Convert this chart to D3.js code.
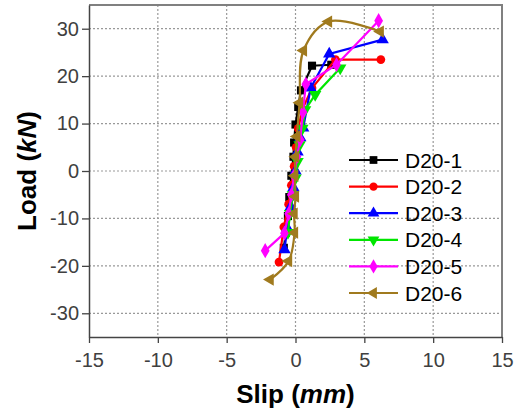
<!DOCTYPE html>
<html lang="en">
<head>
    <meta charset="UTF-8">
    <script src="https://cdn.jsdelivr.net/npm/d3@7/dist/d3.min.js"></script>
    <title>Load-slip</title>
    <style>
        body { margin: 0; background: #fff; }
        text { font-family: Arial, "Liberation Sans", sans-serif; }
    </style>
</head>
<body>
</body>
<script>

    // slip (mm) and load (kN)
    let names = ["D20-1", "D20-2", "D20-3", "D20-4", "D20-5", "D20-6"];
    let colors = ["#000000", "#ff0000", "#0000ff", "#00e600", "#ff00ff", "#a07a1e"];
    let symbols = [d3.symbolSquare, d3.symbolCircle, "up", "down", d3.symbolDiamond, "left"];

    let slip1 = [-0.85, -0.7, -0.55, -0.45, -0.3, -0.15, -0.1, 0.0, 0.2, 0.4, 1.2, 2.6];
    let load1 = [-16.2, -13, -9.5, -5.5, -1, 3, 6, 9.8, 13.5, 17, 22.2, 22.4];
    let slip2 = [-1.2, -0.85, -0.5, -0.3, -0.1, 0.05, 0.2, 0.5, 1.2, 2.9, 6.2];
    let load2 = [-19.2, -11.8, -7, -3, 1, 5, 9, 13, 17.5, 23.5, 23.5];
    let slip3 = [-0.8, -0.6, -0.35, -0.15, 0, 0.15, 0.35, 0.56, 1.1, 2.45, 6.33];
    let load3 = [-16.6, -12, -7.5, -3.5, 0, 4, 7, 9.1, 17.5, 24.7, 27.7];
    let slip4 = [-0.55, -0.4, -0.2, 0, 0.15, 0.3, 0.5, 0.7, 1.43, 3.25];
    let load4 = [-13, -9, -5, -1.5, 2, 5.5, 9, 12.9, 16.1, 21.7];
    let slip5 = [-2.2, -0.8, -0.5, -0.3, -0.1, 0.1, 0.34, 0.54, 0.75, 2.98, 6.04];
    let load5 = [-16.8, -13.1, -9, -5, -1, 3, 6.6, 12.4, 18.3, 22.4, 31.7];
    let slip6 = [-1.84, -0.5, -0.07, -0.1, 0, -0.05, 0.0, 0.1, 0.3, 0.58, 2.4, 6.16];
    let load6 = [-22.9, -19, -13, -9, -5.4, -1, 3, 7.3, 14.4, 25.4, 31.5, 29.4];

    let slips = [slip1, slip2, slip3, slip4, slip5, slip6];
    let loads = [load1, load2, load3, load4, load5, load6];

    let xTicks = [-15, -10, -5, 0, 5, 10, 15];
    let yTicks = [-30, -20, -10, 0, 10, 20, 30];

    let width = 514, height = 411;
    let mLeft = 89, mTop = 5, mRight = 502, mBottom = 337;

    let svg = d3.select("body")
        .append("svg")
        .attr("width", width)
        .attr("height", height);

    let x = d3.scaleLinear().domain([-15, 15]).range([mLeft, mRight]);
    let y = d3.scaleLinear().domain([-35, 35]).range([mBottom, mTop]);

    // grid
    svg.append("g")
        .selectAll("line")
        .data(xTicks.slice(1, -1))
        .join("line")
        .attr("x1", d => x(d)).attr("x2", d => x(d))
        .attr("y1", mTop).attr("y2", mBottom)
        .attr("stroke", "#999").attr("stroke-width", 1.2)
        .attr("stroke-dasharray", "2,2");
    svg.append("g")
        .selectAll("line")
        .data(yTicks)
        .join("line")
        .attr("x1", mLeft).attr("x2", mRight)
        .attr("y1", d => y(d)).attr("y2", d => y(d))
        .attr("stroke", "#999").attr("stroke-width", 1.2)
        .attr("stroke-dasharray", "2,2");

    // top and right border
    svg.append("path")
        .attr("d", `M${mLeft},${mTop}H${mRight}V${mBottom}`)
        .attr("fill", "none")
        .attr("stroke", "#808080")
        .attr("stroke-width", 2);

    let fmt = d => String(d); // plain hyphen, like the original
    let xAxis = svg.append("g")
        .attr("transform", `translate(0,${mBottom})`)
        .call(d3.axisBottom(x).tickValues(xTicks).tickFormat(fmt).tickSize(6).tickSizeOuter(0));
    let yAxis = svg.append("g")
        .attr("transform", `translate(${mLeft},0)`)
        .call(d3.axisLeft(y).tickValues(yTicks).tickFormat(fmt).tickSize(7).tickSizeOuter(0));

    [xAxis, yAxis].forEach(g => {
        g.select(".domain").attr("stroke", "#444").attr("stroke-width", 1.5);
        g.selectAll(".tick line").attr("stroke", "#444").attr("stroke-width", 1.3);
        g.selectAll(".tick text")
            .attr("font-size", 20)
            .attr("font-family", "Arial, 'Liberation Sans', sans-serif")
            .attr("fill", "#404040");
    });
    xAxis.selectAll(".tick text").attr("dy", "1.05em");
    yAxis.selectAll(".tick text").attr("x", -10);

    function markerPath(s, size) {
        if (s === "up" || s === "down" || s === "left") return d3.symbol(d3.symbolTriangle, size)();
        return d3.symbol(s, size)();
    }
    function markerRot(s) {
        if (s === "down") return 180;
        if (s === "left") return -90;
        return 0;
    }

    // series
    let plot = svg.append("g");
    names.forEach((name, i) => {
        let pts = slips[i].map((v, j) => [v, loads[i][j]]);
        let line = d3.line()
            .x(d => x(d[0]))
            .y(d => y(d[1]))
            .curve(i === 5 ? d3.curveCatmullRom.alpha(0.5) : d3.curveLinear);
        plot.append("path")
            .datum(pts)
            .attr("d", line)
            .attr("fill", "none")
            .attr("stroke", colors[i])
            .attr("stroke-width", 2.2);
        plot.append("g")
            .selectAll("path")
            .data(pts)
            .join("path")
            .attr("d", markerPath(symbols[i], i === 1 ? 60 : 66))
            .attr("transform", d => `translate(${x(d[0])},${y(d[1])}) rotate(${markerRot(symbols[i])})`)
            .attr("fill", colors[i]);
    });

    // legend
    let legend = svg.append("g");
    names.forEach((name, i) => {
        let ly = 160 + i * 26.6;
        legend.append("line")
            .attr("x1", 349).attr("x2", 398)
            .attr("y1", ly).attr("y2", ly)
            .attr("stroke", colors[i]).attr("stroke-width", 2.2);
        legend.append("path")
            .attr("d", markerPath(symbols[i], i === 1 ? 55 : 60))
            .attr("transform", `translate(373.5,${ly}) rotate(${markerRot(symbols[i])})`)
            .attr("fill", colors[i]);
        legend.append("text")
            .attr("x", 405).attr("y", ly)
            .attr("dy", "0.36em")
            .attr("font-size", 21)
            .attr("fill", "#000")
            .text(name);
    });

    // axis titles
    let xt = svg.append("text")
        .attr("x", (mLeft + mRight) / 2)
        .attr("y", 403)
        .attr("text-anchor", "middle")
        .attr("font-size", 26)
        .attr("font-weight", "bold");
    xt.append("tspan").text("Slip (");
    xt.append("tspan").attr("font-style", "italic").text("mm");
    xt.append("tspan").text(")");

    let yt = svg.append("text")
        .attr("transform", `translate(36,${(mTop + mBottom) / 2}) rotate(-90)`)
        .attr("text-anchor", "middle")
        .attr("font-size", 26)
        .attr("font-weight", "bold");
    yt.append("tspan").text("Load (");
    yt.append("tspan").attr("font-style", "italic").text("kN");
    yt.append("tspan").text(")");

</script>
</html>
